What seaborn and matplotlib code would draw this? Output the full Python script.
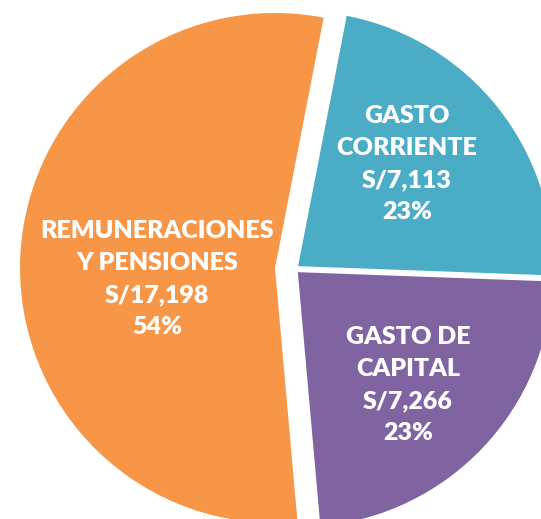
import matplotlib
matplotlib.use("Agg")
import matplotlib.pyplot as plt
import seaborn as sns

# datos (miles de soles)
categorias = ["GASTO\nCORRIENTE", "GASTO DE\nCAPITAL", "REMUNERACIONES\nY PENSIONES"]
montos = [7113, 7266, 17198]
colores = ["#4BACC6", "#8064A2", "#F79646"]

sns.set_theme(style="white")
plt.rcParams['font.family'] = ['Lato', 'DejaVu Sans']

total = sum(montos)
porcentajes = [round(m / total * 100) for m in montos]

fig = plt.figure(figsize=(5.41, 5.19), dpi=100)
ax = fig.add_axes([0, 0, 1, 1])

# pie en coordenadas de pixel, recortado por los bordes como el original
# (explode va en las mismas unidades que el radio)
ax.pie(montos, colors=colores, explode=[4.6, 4.6, 19.5],
       startangle=79, counterclock=False, radius=255, center=(294.5, 250),
       wedgeprops=dict(linewidth=0))
ax.set_xlim(0, 541)
ax.set_ylim(0, 519)
ax.set_aspect("equal")
ax.axis("off")

# posicion de las etiquetas (pixeles)
pos_etiquetas = [(407, 355), (408, 134), (157, 240)]
for cat, m, p, (x, y) in zip(categorias, montos, porcentajes, pos_etiquetas):
    ax.text(x, y, f"{cat}\nS/{m:,}\n{p}%", ha="center", va="center",
            color="white", fontsize=18, fontweight="heavy", linespacing=1.56)

fig.savefig("out.png", dpi=100)
